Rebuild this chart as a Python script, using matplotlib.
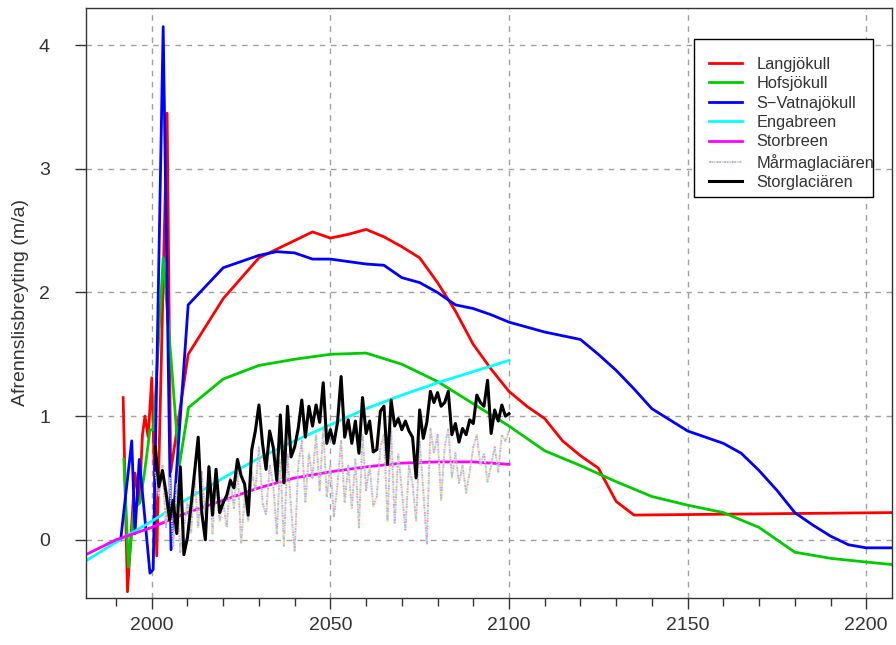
import matplotlib
matplotlib.use("Agg")
import matplotlib.pyplot as plt
from matplotlib.legend_handler import HandlerTuple
from matplotlib.patches import Rectangle
from matplotlib.ticker import MultipleLocator

plt.rcParams['font.family'] = ['Liberation Sans', 'DejaVu Sans']

# Langjökull
lang_yr = [1992, 1993.2, 1995.3, 1996.5, 1997.4, 1998.1, 1999, 2000, 2001.4, 2004.3, 2005.3,
           2010.2, 2020, 2030, 2035, 2040, 2045, 2050, 2055, 2060, 2065, 2070, 2075, 2080,
           2085, 2090, 2095, 2100, 2105, 2110, 2115, 2120, 2125, 2130, 2135, 2207.2]
lang_val = [1.15, -0.42, 0.54, 0.3, 0.85, 1.0, 0.83, 1.31, -0.13, 3.45, 0.55,
            1.5, 1.95, 2.28, 2.35, 2.42, 2.49, 2.44, 2.47, 2.51, 2.45, 2.37, 2.28, 2.08,
            1.85, 1.58, 1.38, 1.2, 1.08, 0.98, 0.8, 0.68, 0.58, 0.31, 0.2, 0.22]

# Hofsjökull
hofs_yr = [1992.2, 1993.5, 1995, 1996.7, 1998, 1999.5, 2000.5, 2003.2, 2007.7, 2010.3,
           2020, 2030, 2040, 2050, 2060, 2070, 2080, 2090, 2100, 2110, 2120, 2130, 2140,
           2150, 2160, 2170, 2180, 2190, 2200, 2207.2]
hofs_val = [0.65, -0.22, 0.25, 0.3, 0.55, 0.89, 0.89, 2.28, 0.6, 1.07,
            1.3, 1.41, 1.46, 1.5, 1.51, 1.42, 1.28, 1.1, 0.92, 0.72, 0.6, 0.47, 0.35,
            0.28, 0.22, 0.1, -0.1, -0.15, -0.18, -0.2]

# S-Vatnajökull
vatna_yr = [1991.3, 1994.4, 1995.3, 1996.5, 1997.6, 1999.5, 2000.4, 2003.2, 2005.4,
            2010.2, 2020, 2030, 2035, 2040, 2045, 2050, 2060, 2065, 2070, 2075, 2080,
            2085, 2090, 2095, 2100, 2110, 2120, 2125, 2130, 2135, 2140, 2145, 2150,
            2160, 2165, 2170, 2175, 2180, 2185, 2190, 2195, 2200, 2207.2]
vatna_val = [0.0, 0.8, 0.05, 0.65, 0.32, -0.27, -0.24, 4.15, -0.08,
             1.9, 2.2, 2.3, 2.33, 2.32, 2.27, 2.27, 2.23, 2.22, 2.12, 2.08, 2.0,
             1.9, 1.87, 1.82, 1.76, 1.68, 1.62, 1.5, 1.37, 1.22, 1.06, 0.97, 0.88,
             0.78, 0.7, 0.56, 0.4, 0.22, 0.12, 0.03, -0.04, -0.065, -0.065]

# Engabreen and Storbreen
enga_yr = [1981.6, 1990, 2000, 2010, 2020, 2030, 2040, 2050, 2060, 2070, 2080, 2090, 2100]
enga_val = [-0.17, -0.02, 0.15, 0.33, 0.5, 0.66, 0.8, 0.93, 1.06, 1.17, 1.27, 1.36, 1.45]
stor_yr = [1981.6, 1990, 2000, 2010, 2020, 2030, 2040, 2050, 2060, 2070, 2080, 2090, 2100]
stor_val = [-0.12, 0.0, 0.1, 0.22, 0.32, 0.42, 0.5, 0.55, 0.59, 0.62, 0.63, 0.63, 0.61]

# annual series 2001-2100
years = list(range(2001, 2101))
marma_val = [0.55, 0.35, 0.6, 0.1, 0.5, -0.05, 0.45, -0.1, 0.1, 0.3,
             0.05, 0.5, 0.1, 0.55, 0.2, 0.6, 0.05, 0.45, 0.15, 0.3,
             0.1, 0.5, 0.25, 0.6, -0.03, 0.35, 0.15, 0.55, 0.4, 0.75,
             0.3, 0.2, 0.6, 0.45, 0.05, 0.65, -0.05, 0.7, 0.25, -0.09,
             0.6, 0.8, 0.3, 0.7, 0.5, 0.85, 0.4, 0.9, 0.35, 0.6,
             0.19, 0.45, 0.8, 0.3, 0.6, 0.25, 0.65, 0.1, 0.85, 0.4,
             0.6, 0.27, 0.35, 0.75, 0.85, 0.15, 0.9, 0.13, 0.7, 0.4,
             0.08, 0.6, 0.45, 0.15, 0.8, 0.4, -0.03, 0.9, 0.7, 0.85,
             0.32, 0.75, 0.9, 0.5, 0.7, 0.46, 0.6, 0.38, 0.55, 0.75,
             0.85, 0.6, 0.7, 0.47, 0.6, 0.75, 0.55, 0.85, 0.8, 0.88]
storgl_val = [0.75, 0.43, 0.56, 0.38, 0.16, 0.32, 0.05, 0.59, -0.12, 0.02,
              0.28, 0.55, 0.83, 0.22, 0.0, 0.59, 0.2, 0.57, 0.22, 0.3,
              0.36, 0.48, 0.42, 0.65, 0.52, 0.45, 0.2, 0.73, 0.88, 1.09,
              0.78, 0.57, 0.88, 0.75, 0.48, 1.01, 0.46, 1.08, 0.67, 0.75,
              0.9, 1.13, 0.83, 1.08, 0.92, 1.09, 0.95, 1.27, 0.78, 0.89,
              0.78, 0.95, 1.32, 0.83, 0.97, 0.78, 0.96, 0.7, 1.15, 0.86,
              0.96, 0.71, 0.73, 1.04, 1.08, 0.61, 1.13, 0.92, 0.98, 0.89,
              0.96, 0.88, 0.83, 0.5, 1.05, 0.82, 0.95, 1.2, 1.11, 1.19,
              1.08, 1.11, 1.2, 0.85, 0.94, 0.79, 0.9, 0.85, 0.97, 0.94,
              1.17, 1.11, 1.08, 1.29, 0.86, 1.05, 0.96, 1.09, 1.0, 1.02]

labels = ['Langjökull', 'Hofsjökull', 'S\u2212Vatnajökull', 'Engabreen', 'Storbreen',
          'Mårmaglaciären', 'Storglaciären']

fig = plt.figure(figsize=(8.96, 6.45), dpi=100)
ax = fig.add_axes([0.096, 0.073, 0.8995, 0.9145])

lw = 2.0
h_lang, = ax.plot(lang_yr, lang_val, color='#ff0000', lw=lw)
h_hofs, = ax.plot(hofs_yr, hofs_val, color='#00cd00', lw=lw)
h_vatna, = ax.plot(vatna_yr, vatna_val, color='#0000ff', lw=lw)
h_enga, = ax.plot(enga_yr, enga_val, color='#00ffff', lw=lw)
h_stor, = ax.plot(stor_yr, stor_val, color='#ff00ff', lw=lw)

# dotted multicolour line for Mårmaglaciären
marma_parts = []
for off, col in zip([0, 1.3, 2.6], ['#ff8ce0', '#d8e878', '#8cc8ff']):
    h, = ax.plot(years, marma_val, color=col, lw=1.4, linestyle=(off, (1, 2.9)))
    marma_parts.append(h)
h_storgl, = ax.plot(years, storgl_val, color='black', lw=2.2)

ax.set_xlim(1981.6, 2207.2)
ax.set_ylim(-0.47, 4.30)
ax.xaxis.set_major_locator(MultipleLocator(50))
ax.xaxis.set_minor_locator(MultipleLocator(10))
ax.yaxis.set_major_locator(MultipleLocator(1))
ax.grid(True, which='major', color='#a0a0a0', linestyle=(0, (4, 4)), lw=1.0)
ax.tick_params(axis='both', which='major', direction='out', length=8, width=1,
               labelsize=14, color='#333333', labelcolor='#333333')
ax.tick_params(axis='x', which='major', pad=6)
ax.tick_params(axis='y', which='major', pad=18)
ax.tick_params(axis='x', which='minor', direction='out', length=6, width=1, color='#333333')
for sp in ax.spines.values():
    sp.set_color('#333333')
    sp.set_linewidth(1.0)

ax.set_ylabel('Afrennslisbreyting (m/a)', fontsize=14, color='#333333', labelpad=7)

# legend box drawn separately so the text can run up to its right edge
ax.add_patch(Rectangle((0.7543, 0.6797), 0.2221, 0.2678, transform=ax.transAxes,
                       facecolor='white', edgecolor='black', lw=1.0, zorder=4))
leg = ax.legend([h_lang, h_hofs, h_vatna, h_enga, h_stor, tuple(marma_parts), h_storgl],
                labels, loc='upper left', bbox_to_anchor=(0.773, 0.9175),
                handler_map={tuple: HandlerTuple(ndivide=1)},
                fontsize=11.8, frameon=False, handlelength=2.0, handletextpad=0.9,
                labelspacing=0.27, borderpad=0, borderaxespad=0)
for t in leg.get_texts():
    t.set_color('#333333')

fig.savefig('out.png', dpi=100)
